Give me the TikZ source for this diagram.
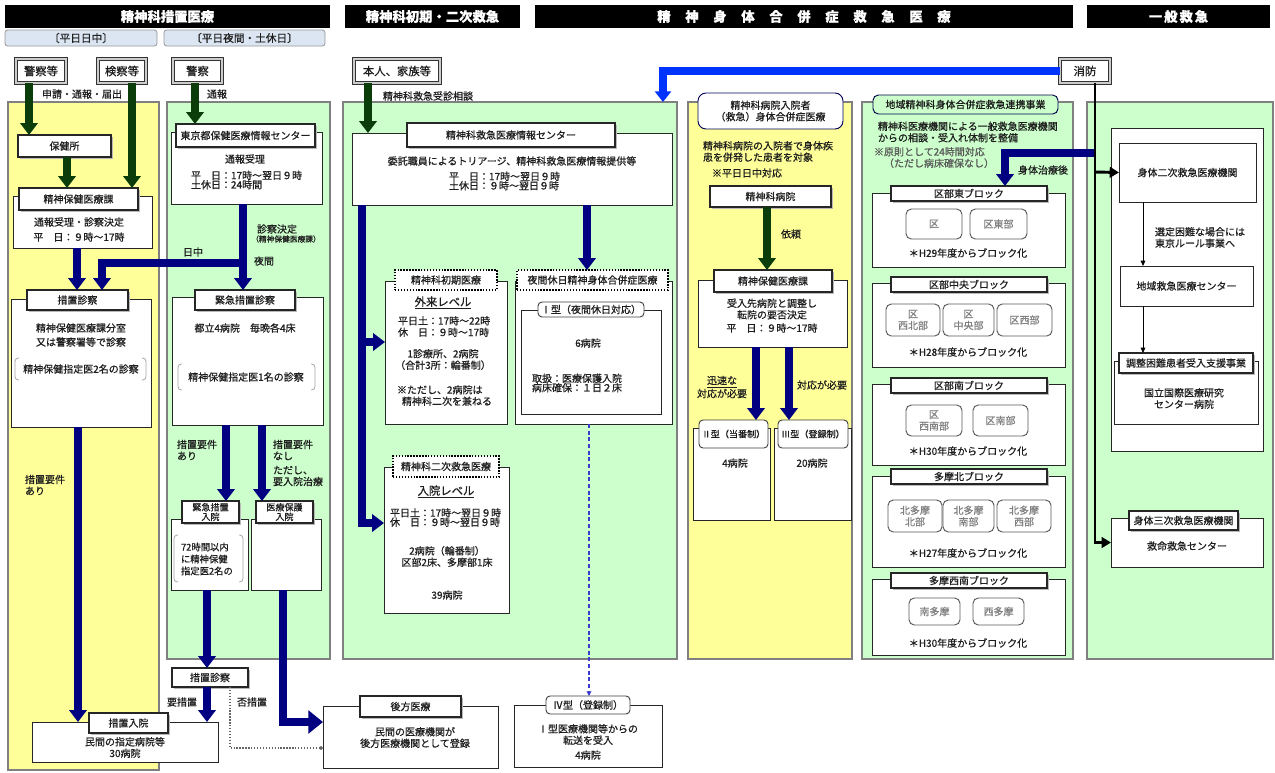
\documentclass[tikz,border=0pt]{standalone}
\usepackage{fontspec}
\setmainfont{Noto Sans CJK JP}[FakeBold=0.7]
\usetikzlibrary{arrows.meta,fit,calc}
\definecolor{pyel}{HTML}{FFFF99}
\definecolor{pgrn}{HTML}{CCFFCC}
\definecolor{navyc}{HTML}{000080}
\definecolor{dgrn}{HTML}{0B3D0B}
\definecolor{bblue}{HTML}{0033FF}
\definecolor{lblue}{HTML}{DCE6F2}
\definecolor{panelb}{HTML}{808080}
\definecolor{txtc}{HTML}{1E1E1E}
\definecolor{dashb}{HTML}{3A3ACC}
\newcommand\fs{\fontsize{7.5}{8.6}\selectfont}
\newcommand\fsn{\fontsize{7.5}{7}\selectfont}
\newcommand\fss{\fontsize{5.8}{7}\selectfont}
\newcommand\fsm{\fontsize{6.8}{7.2}\selectfont}
\newcommand\fsb{\fontsize{7}{9}\selectfont}
\newcommand\fsk{\fontsize{8.5}{10}\selectfont}
\newcommand\fst{\fontsize{10}{12}\selectfont\bfseries}
\newcommand\B[6][]{\node[#2, fit={#3 #4}] (#5) {}; \node[base,#1] (#5-t) at (#5.center) {#6};}
\newcommand\Brk[4]{%
  \draw[brk,rounded corners=2.5pt] (#1+4,#2) -- (#1,#2) -- (#1,#4) -- (#1+4,#4);
  \draw[brk,rounded corners=2.5pt] (#3-4,#2) -- (#3,#2) -- (#3,#4) -- (#3-4,#4);}
\newcommand\Blk[5]{%
  \B{obox}{(872,#4)}{(1065,#5)}{#1}{}
  \B{tab}{(891,#3)}{(1047,#3+15)}{#1t}{#2}}
\tikzset{
  base/.style={inner sep=0pt, outer sep=0pt, font=\fs, align=center, text=txtc},
  ttl/.style={font=\fst, text=white},
  src/.style={font=\fontsize{8.5}{10}\selectfont},
  sub/.style={font=\fontsize{8}{9}\selectfont},
  itx/.style={text=black!50},
  panelY/.style={base, fill=pyel, draw=panelb, line width=0.9pt},
  panelG/.style={base, fill=pgrn, draw=panelb, line width=0.9pt},
  titlebar/.style={base, fill=black},
  subhd/.style={base, fill=lblue, draw=gray!80, line width=0.6pt, rounded corners=2pt},
  srcbox/.style={base, fill=white, draw=black!80, double=gray!40, double distance=1.5pt, line width=0.45pt},
  obox/.style={base, fill=white, draw=black!85, line width=0.65pt},
  tab/.style={base, fill=white, draw=black!85, line width=0.8pt, preaction={fill=gray!55, transform canvas={xshift=1.2pt, yshift=-1.2pt}}},
  dtab/.style={base, fill=white, draw=black, line width=1.2pt, dash pattern=on 1.1pt off 1.1pt},
  rtab/.style={base, fill=white, draw=black!75, line width=0.7pt, rounded corners=3pt},
  ibox/.style={base, fill=white, draw=black!65, line width=0.7pt, rounded corners=4pt},
  lbl/.style={base},
  garrow/.style={draw=dgrn, line width=6pt, -{Triangle[width=13pt,length=9pt]}},
  narrow/.style={draw=navyc, line width=6pt, -{Triangle[width=13pt,length=9pt]}},
  barrow/.style={draw=bblue, line width=6pt, -{Triangle[width=12pt,length=8pt]}},
  bline/.style={draw=black, line width=2.2pt, -{Triangle[width=8pt,length=7pt]}},
  tarrow/.style={draw=black, line width=0.6pt, -{Triangle[width=3.5pt,length=4pt]}},
  brk/.style={draw=gray!70, line width=0.6pt},
}
\begin{document}
\begin{tikzpicture}[x=0.75pt,y=-0.75pt]
\useasboundingbox (0,0) rectangle (1275,772);
\fill[white] (0,0) rectangle (1275,772);
% panels
\B{panelY}{(8,102)}{(159,770)}{P1}{}
\B{panelG}{(167,102)}{(330,659)}{P2}{}
\B{panelG}{(343,102)}{(677,659)}{P3}{}
\B{panelY}{(688,102)}{(852,659)}{P4}{}
\B{panelG}{(862,102)}{(1073,659)}{P5}{}
\B{panelG}{(1087,102)}{(1273,659)}{P6}{}
% titles
\B[ttl]{titlebar}{(5,5)}{(330,28)}{T1}{精神科措置医療}
\B[ttl]{titlebar}{(345,5)}{(520,28)}{T2}{精神科初期・二次救急}
\B[ttl]{titlebar}{(535,5)}{(1073,28)}{T3}{精\hspace{1.1em}神\hspace{1.1em}身\hspace{1.1em}体\hspace{1.1em}合\hspace{1.1em}併\hspace{1.1em}症\hspace{1.1em}救\hspace{1.1em}急\hspace{1.1em}医\hspace{1.1em}療}
\B[ttl]{titlebar}{(1087,5)}{(1270,28)}{T4}{一\hspace{0.15em}般\hspace{0.15em}救\hspace{0.15em}急}
\B[sub]{subhd}{(5,30)}{(157,46)}{S1}{〔平日日中〕}
\B[sub]{subhd}{(164,30)}{(325,46)}{S2}{〔平日夜間・土休日〕}
% sources
\B[src]{srcbox}{(16,59)}{(66,83)}{kA}{警察等}
\B[src]{srcbox}{(98,59)}{(146,83)}{kB}{検察等}
\B[src]{srcbox}{(173,59)}{(222,83)}{kC}{警察}
\B[src]{srcbox}{(354,59)}{(440,83)}{kD}{本人、家族等}
\B[src]{srcbox}{(1060,59)}{(1110,83)}{kE}{消防}
\node[lbl] (l1) at (82,94) {申請・通報・届出};
\node[lbl] (l2) at (217,94) {通報};
\node[lbl, anchor=west] (l3) at (383,96) {精神科救急受診相談};
% panel 1
\B{tab}{(18,135)}{(111,157)}{hoken}{保健所}
\B{obox}{(13,196)}{(152,248)}{hkA}{}
\B{tab}{(19,188)}{(138,210)}{hkAt}{精神保健医療課}
\node[lbl] (t1) at (79,222) {通報受理・診察決定};
\node[lbl] (t2) at (79,237) {平　日：９時～17時};
\B{obox}{(11,299)}{(151,427)}{sc}{}
\B{tab}{(27,290)}{(128,310)}{sct}{措置診察}
\node[lbl] (t3) at (81,335) {精神保健医療課分室\\[2pt]又は警察署等で診察};
\Brk{15}{358}{146}{380}
\node[lbl] (t4) at (81,369) {精神保健指定医2名の診察};
\node[lbl, anchor=west, align=left] (t5) at (25,485) {措置要件\\あり};
\B{obox}{(32,722)}{(218,762)}{nyu}{}
\B{tab}{(89,713)}{(168,733)}{nyut}{措置入院}
\node[lbl] (t6) at (125,747.5) {民間の指定病院等\\30病院};
% panel 2
\B{obox}{(171,132)}{(322,204)}{tk}{}
\B{tab}{(176,124)}{(315,147)}{tkt}{東京都保健医療情報センター}
\node[lbl] (t7) at (245,159) {通報受理};
\node[lbl, anchor=west, align=left, font=\fsn] (t8) at (191,180) {平　日：17時～翌日９時\\土休日：24時間};
\node[lbl] (t9) at (277,229) {診察決定};
\node[lbl, font=\fss] (t10) at (286,239) {（精神保健医療課）};
\node[lbl] (t11) at (193,252) {日中};
\node[lbl] (t12) at (264,261) {夜間};
\B{obox}{(172,297)}{(323,425)}{ks}{}
\B{tab}{(195,290)}{(295,310)}{kst}{緊急措置診察}
\node[lbl] (t13) at (245,328) {都立4病院　毎晩各4床};
\Brk{178}{364}{315}{390}
\node[lbl] (t14) at (246,377) {精神保健指定医1名の診察};
\node[lbl, anchor=west, align=left] (t15) at (177,450) {措置要件\\あり};
\node[lbl, anchor=west, align=left] (t16) at (273,450) {措置要件\\なし};
\node[lbl, anchor=west, align=left] (t17) at (273,476) {ただし、\\要入院治療};
\B{obox}{(171,519)}{(248,590)}{kn}{}
\B[font=\fsm]{tab}{(182,501)}{(239,523)}{knt}{緊急措置\\入院}
\Brk{174}{535}{243}{582}
\node[lbl, anchor=west, align=left, font=\fsb] (t18) at (181,559) {72時間以内\\に精神保健\\指定医2名の};
\B{obox}{(251,519)}{(321,590)}{ih}{}
\B[font=\fsm]{tab}{(256,501)}{(313,523)}{iht}{医療保護\\入院}
\B{tab}{(172,668)}{(248,687)}{sc2}{措置診察}
\node[lbl] (t19) at (182,702) {要措置};
\node[lbl] (t20) at (252,702) {否措置};
% panel 3
\B{obox}{(352,133)}{(672,205)}{ce}{}
\B{tab}{(407,123)}{(615,147)}{cet}{精神科救急医療情報センター}
\node[lbl] (t21) at (512,161) {委託職員によるトリアージ、精神科救急医療情報提供等};
\node[lbl, anchor=west, align=left, font=\fsn] (t22) at (449,181) {平　日：17時～翌日９時\\土休日：９時～翌日９時};
\B{obox}{(385,281)}{(507,424)}{sh}{}
\B{dtab}{(395,270)}{(497,290)}{sht}{精神科初期医療}
\node[lbl, font=\fsk] (t23) at (443,303) {\underline{外来レベル}};
\node[lbl, anchor=west, align=left] (t24) at (398,326.5) {平日土：17時～22時\\休　日：９時～17時};
\node[lbl] (t25) at (443,359.5) {1診療所、2病院\\（合計3所：輪番制）};
\node[lbl, anchor=west, align=left] (t26) at (397,395.5) {※ただし、2病院は\\\hspace*{0.5em}精神科二次を兼ねる};
\B{obox}{(515,281)}{(672,424)}{yk}{}
\B{dtab}{(517,270)}{(668,290)}{ykt}{夜間休日精神身体合併症医療}
\B{obox}{(521,310)}{(661,414)}{ty1}{}
\B{rtab}{(538,302)}{(644,317)}{ty1t}{Ⅰ型（夜間休日対応）}
\node[lbl] (t27) at (588,343) {6病院};
\node[lbl, anchor=west, align=left, font=\fsn] (t28) at (532,383) {取扱：医療保護入院\\病床確保：１日２床};
\B{obox}{(384,467)}{(509,613)}{nj}{}
\B{dtab}{(393,456)}{(499,477)}{njt}{精神科二次救急医療}
\node[lbl, font=\fsk] (t29) at (446,492) {\underline{入院レベル}};
\node[lbl, anchor=west, align=left, font=\fsn] (t30) at (390,517.5) {平日土：17時～翌日９時\\休　日：９時～翌日９時};
\node[lbl] (t31) at (447,556.5) {2病院（輪番制）\\区部2床、多摩部1床};
\node[lbl] (t32) at (447,595) {39病院};
\B{obox}{(323,706)}{(498,768)}{ko}{}
\B{tab}{(360,696)}{(461,717)}{kot}{後方医療}
\node[lbl] (t33) at (415,737.5) {民間の医療機関が\\後方医療機関として登録};
\B{obox}{(514,705)}{(662,767)}{iv}{}
\B{rtab}{(546,696)}{(630,714)}{ivt}{Ⅳ型（登録制）}
\node[lbl] (t34) at (588,734.5) {Ⅰ型医療機関等からの\\転送を受入};
\node[lbl] (t35) at (588,755) {4病院};
% panel 4
\B{rtab, rounded corners=6pt, draw=navyc!70!black}{(698,93)}{(843,129)}{p4h}{精神科病院入院者\\（救急）身体合併症医療}
\node[lbl, anchor=west, align=left] (t36) at (703,151.5) {精神科病院の入院者で身体疾\\患を併発した患者を対象};
\node[lbl, anchor=west] (t37) at (712,173) {※平日日中対応};
\B{tab}{(710,186)}{(831,207)}{pb}{精神科病院}
\node[lbl] (t38) at (791,234) {依頼};
\B{obox}{(698,280)}{(847,347)}{hk2}{}
\B{tab}{(714,270)}{(832,292)}{hk2t}{精神保健医療課}
\node[lbl] (t39) at (772,309) {受入先病院と調整し\\転院の要否決定};
\node[lbl] (t40) at (772,328) {平　日：９時～17時};
\node[lbl] (t41) at (722,387) {\underline{迅速な}\\対応が必要};
\node[lbl] (t42) at (822,385) {対応が必要};
\B{obox}{(693,428)}{(770,520)}{ii}{}
\B[font=\fsm]{rtab}{(699,420)}{(768,448)}{iit}{Ⅱ型（当番制）}
\node[lbl] (t43) at (735,463) {4病院};
\B{obox}{(774,428)}{(851,520)}{iii}{}
\B[font=\fsm]{rtab}{(778,420)}{(848,448)}{iiit}{Ⅲ型（登録制）}
\node[lbl] (t44) at (812,463) {20病院};
% panel 5
\B{rtab, fill=pgrn, draw=navyc!60!black, rounded corners=4pt}{(873,95)}{(1058,114)}{p5h}{地域精神科身体合併症救急連携事業}
\node[lbl, anchor=west, align=left] (t45) at (878,132) {精神科医療機関による一般救急医療機関\\からの相談・受入れ体制を整備};
\node[lbl, anchor=west, align=left, text=black!65] (t46) at (874,157.5) {※原則として24時間対応\\\hspace*{1em}（ただし病床確保なし）};
\node[lbl] (t47) at (1043,170) {身体治療後};
\Blk{B1}{区部東ブロック}{186}{193}{267}
\B[itx]{ibox}{(906,209)}{(962,239)}{e1}{区}
\B[itx]{ibox}{(970,209)}{(1027,239)}{e2}{区東部}
\node[lbl] (n1) at (968,253) {＊H29年度からブロック化};
\Blk{B2}{区部中央ブロック}{277}{283}{367}
\B[itx]{ibox}{(886,304)}{(940,336)}{c1}{区\\西北部}
\B[itx]{ibox}{(943,304)}{(994,336)}{c2}{区\\中央部}
\B[itx]{ibox}{(997,304)}{(1052,336)}{c3}{区西部}
\node[lbl] (n2) at (968,352) {＊H28年度からブロック化};
\Blk{B3}{区部南ブロック}{378}{384}{465}
\B[itx]{ibox}{(906,405)}{(962,436)}{s1}{区\\西南部}
\B[itx]{ibox}{(973,405)}{(1028,436)}{s2b}{区南部}
\node[lbl] (n3) at (968,451) {＊H30年度からブロック化};
\Blk{B4}{多摩北ブロック}{469}{476}{567}
\B[itx]{ibox}{(888,500)}{(942,532)}{m1}{北多摩\\北部}
\B[itx]{ibox}{(943,500)}{(994,532)}{m2}{北多摩\\南部}
\B[itx]{ibox}{(997,500)}{(1051,532)}{m3}{北多摩\\西部}
\node[lbl] (n4) at (968,553) {＊H27年度からブロック化};
\Blk{B5}{多摩西南ブロック}{573}{579}{655}
\B[itx]{ibox}{(909,598)}{(960,625)}{w1}{南多摩}
\B[itx]{ibox}{(973,598)}{(1024,625)}{w2}{西多摩}
\node[lbl] (n5) at (968,643) {＊H30年度からブロック化};
% panel 6
\B{obox}{(1111,128)}{(1263,451)}{W}{}
\B{obox}{(1119,143)}{(1256,202)}{s2}{身体二次救急医療機関}
\node[lbl, anchor=west, align=left] (t48) at (1155,237.5) {選定困難な場合には\\東京ルール事業へ};
\B{obox}{(1120,266)}{(1253,306)}{ch}{地域救急医療センター}
\B{obox}{(1114,361)}{(1258,424)}{cs}{}
\B{tab}{(1119,353)}{(1253,373)}{cst}{調整困難患者受入支援事業}
\node[lbl] (t49) at (1184,398.5) {国立国際医療研究\\センター病院};
\B{obox}{(1111,518)}{(1263,567)}{s3}{}
\B{tab}{(1129,511)}{(1238,530)}{s3t}{身体三次救急医療機関}
\node[lbl] (t50) at (1187,546) {救命救急センター};
% connectors
\draw[garrow] (29,0 |- kA.south) -- (29,0 |- hoken.north);
\draw[garrow] (132,0 |- kB.south) -- (132,0 |- hkAt.north);
\draw[garrow] (67,0 |- hoken.south) -- (67,0 |- hkAt.north);
\draw[narrow] (77,0 |- hkA.south) -- (77,0 |- sct.north);
\draw[garrow] (195,0 |- kC.south) -- (195,0 |- tkt.north);
\draw[narrow] (243,0 |- tk.south) -- (243,0 |- kst.north);
\coordinate (c1) at (243,263);
\draw[narrow] (c1) -| (102,0 |- sct.north);
\draw[narrow] (78,0 |- sc.south) -- (78,0 |- nyu.north);
\draw[narrow] (226,0 |- ks.south) -- (226,0 |- knt.north);
\draw[narrow] (262,0 |- ks.south) -- (262,0 |- iht.north);
\draw[narrow] (207,0 |- kn.south) -- (207,0 |- sc2.north);
\draw[narrow] (207,0 |- sc2.south) -- (207,0 |- nyu.north);
\draw[draw=gray!80!black, line width=0.8pt, dash pattern=on 1pt off 1.2pt, -{Circle[length=3pt]}] (230,0 |- sc2.south) |- (ko.west |- 0,748);
\draw[draw=navyc, line width=6pt, -{Triangle[width=17pt,length=11pt]}] (283,0 |- ih.south) |- (ko.west |- 0,722);
\draw[garrow] (368,0 |- kD.south) -- (368,0 |- ce.north);
\draw[barrow] (kE.west) -| (663,0 |- P3.north);
\draw[narrow] (362,0 |- ce.south) |- (nj.west |- 0,523);
\coordinate (c2) at (362,342);
\draw[narrow] (c2) -- (sh.west |- c2);
\draw[narrow] (587,0 |- ce.south) -- (587,0 |- ykt.north);
\draw[draw=dashb, line width=0.9pt, dash pattern=on 3pt off 2pt, -{Triangle[width=3.5pt,length=3.5pt]}] (589,0 |- yk.south) -- (589,0 |- ivt.north);
\draw[garrow] (767,0 |- pb.south) -- (767,0 |- hk2t.north);
\draw[narrow] (756,0 |- hk2.south) -- (756,0 |- iit.north);
\draw[narrow] (789,0 |- hk2.south) -- (789,0 |- iiit.north);
\coordinate (c3) at (1095,153);
\draw[narrow] (c3) -| (1005,0 |- B1t.north);
\draw[bline] (1095,0 |- kE.south) |- (s3.west);
\coordinate (c4) at (1095,172);
\draw[bline] (c4) -- (s2.west);
\draw[tarrow] (1143,0 |- s2.south) -- (1143,0 |- ch.north);
\draw[tarrow] (1143,0 |- ch.south) -- (1143,0 |- cst.north);
\end{tikzpicture}
\end{document}
